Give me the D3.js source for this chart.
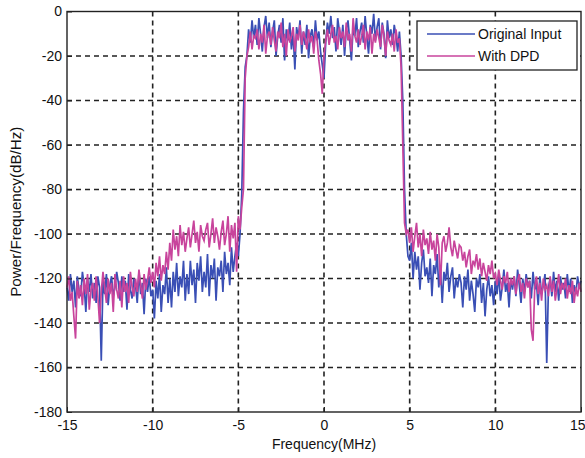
<!DOCTYPE html>
<html>
<head>
<meta charset="utf-8">
<script src="https://cdn.jsdelivr.net/npm/d3@7"></script>
<style>
html,body{margin:0;padding:0;background:#fff;}
svg{display:block;}
text{font-family:"Liberation Sans",Arial,sans-serif;}
</style>
</head>
<body>
<svg id="chart" width="585" height="458"></svg>
<script>
// Frequency grid: -15 .. 15 MHz, step 0.1
const freqStart = -15, freqStep = 0.1;
const xTicks = [-15, -10, -5, 0, 5, 10, 15];
const yTicks = [0, -20, -40, -60, -80, -100, -120, -140, -160, -180];
const seriesNames = ["Original Input", "With DPD"];

const originalInput = [
  -124,-130,-118,-126,-121,-133,-119,-125,-128,-117,
  -123,-135,-120,-126,-118,-129,-122,-131,-119,-124,
  -157,-121,-127,-118,-132,-123,-119,-128,-124,-117,
  -122,-130,-119,-126,-121,-134,-118,-125,-129,-120,
  -123,-131,-117,-127,-122,-136,-120,-126,-119,-128,
  -125,-138,-121,-129,-118,-135,-123,-127,-115,-131,
  -120,-133,-117,-126,-113,-128,-119,-124,-112,-130,
  -118,-127,-112,-123,-116,-131,-113,-121,-110,-126,
  -117,-124,-109,-128,-114,-120,-111,-130,-115,-119,
  -112,-126,-108,-118,-113,-123,-106,-117,-110,-104,
  -110,-100,-82,-45,-25,-20,-8,-14,-4,-12,
  -6,-15,-3,-10,-18,-7,-2,-12,-5,-16,
  -9,-4,-20,-11,-6,-14,-3,-22,-8,-13,
  -5,-17,-10,-26,-7,-12,-4,-19,-9,-15,
  -6,-21,-11,-8,-16,-4,-13,-9,-18,-24,
  -30,-14,-5,-10,-2,-12,-7,-18,-3,-9,
  -15,-6,-20,-8,-4,-13,-22,-7,-11,-3,
  -16,-9,-5,-14,-2,-11,-19,-6,-10,-1,
  -13,-7,-3,-17,-5,-10,-21,-4,-12,-8,
  -15,-6,-11,-18,-9,-20,-40,-80,-100,-110,
  -112,-104,-120,-108,-116,-110,-125,-113,-107,-119,
  -115,-122,-111,-128,-114,-118,-109,-124,-116,-131,
  -117,-121,-113,-126,-119,-115,-129,-120,-124,-118,
  -122,-133,-119,-125,-116,-130,-121,-127,-135,-120,
  -124,-118,-131,-122,-137,-125,-119,-128,-123,-132,
  -121,-127,-118,-130,-124,-116,-126,-122,-133,-120,
  -125,-119,-128,-116,-123,-131,-120,-126,-118,-124,
  -121,-129,-117,-125,-122,-132,-119,-127,-123,-118,
  -158,-124,-120,-128,-117,-126,-121,-130,-119,-125,
  -122,-129,-118,-126,-120,-131,-123,-127,-119,-124,
  -121
];

const withDPD = [
  -124,-119,-130,-126,-137,-147,-121,-129,-123,-132,
  -120,-127,-118,-134,-125,-122,-130,-119,-128,-140,
  -126,-117,-124,-131,-120,-127,-122,-135,-118,-125,
  -129,-121,-133,-119,-126,-122,-131,-117,-124,-128,
  -120,-126,-116,-123,-129,-118,-125,-121,-115,-122,
  -117,-124,-113,-119,-110,-121,-114,-118,-108,-116,
  -104,-112,-98,-107,-101,-110,-96,-105,-99,-108,
  -102,-97,-106,-100,-94,-104,-99,-108,-96,-101,
  -103,-98,-95,-106,-100,-93,-104,-97,-101,-107,
  -99,-94,-105,-100,-92,-108,-96,-102,-95,-117,
  -92,-98,-88,-80,-30,-20,-16,-9,-17,-11,
  -12,-8,-17,-10,-14,-6,-19,-11,-9,-15,
  -7,-13,-18,-9,-12,-5,-16,-10,-20,-8,
  -14,-11,-7,-18,-10,-13,-6,-15,-9,-12,
  -17,-8,-14,-11,-19,-9,-13,-22,-28,-37,
  -20,-13,-8,-15,-10,-6,-14,-11,-17,-7,
  -12,-9,-16,-5,-13,-10,-18,-3,-11,-14,
  -8,-15,-11,-6,-17,-9,-13,-7,-19,-10,
  -14,-8,-12,-16,-6,-11,-20,-9,-13,-15,
  -10,-18,-8,-14,-12,-25,-60,-95,-100,-98,
  -104,-97,-108,-101,-95,-106,-100,-110,-98,-105,
  -102,-109,-99,-107,-103,-112,-100,-106,-123,-104,
  -101,-108,-104,-97,-106,-110,-103,-107,-111,-105,
  -106,-112,-108,-115,-110,-107,-118,-112,-114,-109,
  -116,-111,-119,-113,-117,-121,-114,-118,-112,-120,
  -118,-123,-116,-121,-125,-119,-122,-117,-126,-120,
  -123,-119,-127,-121,-118,-126,-122,-129,-120,-124,
  -121,-143,-148,-124,-119,-127,-122,-130,-120,-125,
  -123,-128,-119,-126,-121,-130,-124,-118,-127,-122,
  -125,-120,-129,-123,-127,-121,-131,-124,-128,-122,
  -126
];

const colors = ["#3a4fb5", "#c8449c"];

const svg = d3.select("#chart");
const m = {left: 67, top: 11.5, right: 4, bottom: 46};
const W = 585, H = 458;
const x = d3.scaleLinear().domain([-15, 15]).range([m.left, W - m.right]);
const y = d3.scaleLinear().domain([-180, 0]).range([H - m.bottom, m.top]);

// grid
const g = svg.append("g");
g.selectAll("line.gx").data(xTicks.slice(1, -1)).join("line")
  .attr("x1", d => x(d)).attr("x2", d => x(d))
  .attr("y1", y(0)).attr("y2", y(-180))
  .attr("stroke", "#222").attr("stroke-width", 1.6).attr("stroke-dasharray", "5,4");
g.selectAll("line.gy").data(yTicks.slice(1, -1)).join("line")
  .attr("y1", d => y(d)).attr("y2", d => y(d))
  .attr("x1", x(-15)).attr("x2", x(15))
  .attr("stroke", "#222").attr("stroke-width", 1.6).attr("stroke-dasharray", "5,4");

// lines
const toPts = arr => arr.map((v, i) => [freqStart + i * freqStep, v]);
const line = d3.line().x(d => x(d[0])).y(d => y(d[1]));
[originalInput, withDPD].forEach((arr, i) => {
  svg.append("path").datum(toPts(arr))
    .attr("d", line).attr("fill", "none")
    .attr("stroke", colors[i]).attr("stroke-width", 1.7);
});

// frame
svg.append("rect").attr("x", x(-15)).attr("y", y(0))
  .attr("width", x(15) - x(-15)).attr("height", y(-180) - y(0))
  .attr("fill", "none").attr("stroke", "#222").attr("stroke-width", 1.4);

// axes
const fmt = d => String(d).replace("\u2212", "-");
const xAxis = d3.axisBottom(x).tickValues(xTicks).tickSize(-5).tickPadding(8).tickFormat(fmt);
const yAxis = d3.axisLeft(y).tickValues(yTicks).tickSize(-5).tickPadding(5).tickFormat(fmt);
const gx = svg.append("g").attr("transform", `translate(0,${y(-180)})`).call(xAxis);
const gy = svg.append("g").attr("transform", `translate(${x(-15)},0)`).call(yAxis);
[gx, gy].forEach(a => {
  a.select(".domain").remove();
  a.selectAll(".tick line").attr("stroke", "#222");
  a.selectAll("text").attr("font-size", 14).attr("fill", "#111")
    .style("font-family", "'Liberation Sans', Arial, sans-serif");
});
// keep the last x label inside the window
gx.selectAll(".tick text").filter(d => d === 15).attr("text-anchor", "end").attr("x", 4);

// axis labels
svg.append("text").attr("x", x(0)).attr("y", 449).attr("text-anchor", "middle")
  .attr("font-size", 14).attr("fill", "#111").text("Frequency(MHz)");
svg.append("text").attr("transform", `translate(21,${(y(0) + y(-180)) / 2}) rotate(-90)`)
  .attr("text-anchor", "middle").attr("font-size", 14).attr("fill", "#111")
  .attr("textLength", 170).attr("lengthAdjust", "spacingAndGlyphs")
  .text("Power/Frequency(dB/Hz)");

// legend
const lg = svg.append("g");
lg.append("rect").attr("x", 417).attr("y", 21).attr("width", 160).attr("height", 49)
  .attr("fill", "#fff").attr("stroke", "#222").attr("stroke-width", 1.3);
seriesNames.forEach((n, i) => {
  const ly = 34 + i * 22;
  lg.append("line").attr("x1", 427).attr("x2", 475).attr("y1", ly).attr("y2", ly)
    .attr("stroke", colors[i]).attr("stroke-width", 1.6);
  lg.append("text").attr("x", 478).attr("y", ly + 5).attr("font-size", 14)
    .attr("fill", "#111").text(n);
});
</script>
</body>
</html>
